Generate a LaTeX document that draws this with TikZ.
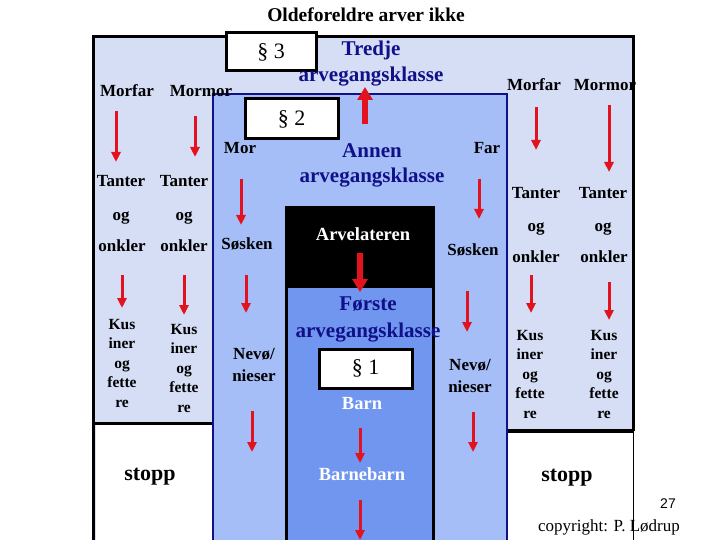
\documentclass[tikz,border=0pt]{standalone}
\usepackage{fontspec}
\setmainfont{Liberation Serif}
\newfontfamily\numfont{Liberation Sans}
\usetikzlibrary{arrows.meta}
\definecolor{outerbg}{RGB}{214,222,246}
\definecolor{midbg}{RGB}{166,190,248}
\definecolor{innerbg}{RGB}{112,150,240}
\definecolor{navyc}{RGB}{16,16,136}
\definecolor{redc}{RGB}{226,18,30}
\newcommand\redarr[4]{%
  \coordinate (#1s) at (#2,#3);
  \coordinate (#1e) at (#2,#4);
  \draw[arr] (#1s) -- (#1e);}
\tikzset{
  lbl/.style={font=\fontsize{17}{17}\selectfont\bfseries, inner sep=0pt, text height=0.68em, text depth=0pt},
  wlbl/.style={lbl, font=\fontsize{18.5}{18.5}\selectfont\bfseries, text=white},
  kus/.style={font=\fontsize{15.5}{19.5}\selectfont\bfseries, align=center, inner sep=0pt},
  nev/.style={font=\fontsize{17}{22}\selectfont\bfseries, align=center, inner sep=0pt},
  cls/.style={font=\fontsize{21}{#1}\selectfont\bfseries, text=navyc, align=center, inner sep=0pt},
  parbox/.style={draw=black, line width=3pt, fill=white, minimum width=90pt, minimum height=38pt, inner sep=0pt, font=\fontsize{22}{22}\selectfont},
  arr/.style={draw=redc, line width=3pt, -{Triangle[width=9pt,length=10pt]}},
  bigarr/.style={draw=redc, line width=6pt, -{Triangle[width=15pt,length=13pt]}},
  stp/.style={font=\fontsize{22}{22}\selectfont\bfseries, inner sep=0pt, text height=0.68em, text depth=0pt},
}
\begin{document}
\begin{tikzpicture}[x=1pt,y=-1pt]
\useasboundingbox (0,0) rectangle (720,540);
% outer class (third)
\fill[outerbg] (93,37) rectangle (633,540);
\fill[white] (96,425) rectangle (213,540);
\fill[white] (507,431) rectangle (633,540);
\draw[line width=3pt] (93,540) -- (93,37) -- (633,37) -- (633,431);
\draw[line width=1pt] (633,431) -- (633,540);
\draw[line width=3.5pt] (93,423.5) -- (213,423.5);
\draw[line width=3.5pt] (507,431) -- (633,431);
% middle class (second)
\draw[fill=midbg, draw=navyc, line width=2.5pt] (213,541) -- (213,94) -- (507,94) -- (507,541);
% arvelateren + first class
\fill[black] (285,206) rectangle (435,540);
\fill[innerbg] (288,288) rectangle (432,540);
% paragraph boxes
\node[parbox] (p3) at (271,52) {§ 3};
\node[parbox, minimum width=93pt, minimum height=40pt] (p2) at (291.5,119) {§ 2};
\node[parbox, minimum width=93pt, minimum height=39pt] (p1) at (365.5,368.5) {§ 1};
% titles
\node[lbl, font=\fontsize{19.5}{19.5}\selectfont\bfseries] (title) at (366,18) {Oldeforeldre arver ikke};
\node[cls=26] (c3) at (371,64) {Tredje\\arvegangsklasse};
\node[cls=25] (c2) at (372,165) {Annen\\arvegangsklasse};
\node[cls=27] (c1) at (368,319) {Første\\arvegangsklasse};
% left outer column
\node[lbl] (morfarL) at (127,93) {Morfar};
\node[lbl] (mormorL) at (201,93) {Mormor};
\node[lbl] (tanL1) at (121,183) {Tanter};
\node[lbl] (tanL2) at (184,183) {Tanter};
\node[lbl] (ogL1) at (121,217) {og};
\node[lbl] (ogL2) at (184,217) {og};
\node[lbl] (onkL1) at (122,248) {onkler};
\node[lbl] (onkL2) at (184,248) {onkler};
\node[kus] (kusL1) at (122,363) {Kus\\iner\\og\\fette\\re};
\node[kus] (kusL2) at (184,368) {Kus\\iner\\og\\fette\\re};
\node[stp] (stoppL) at (150,477) {stopp};
% right outer column
\node[lbl] (morfarR) at (534,87) {Morfar};
\node[lbl] (mormorR) at (605,87) {Mormor};
\node[lbl] (tanR1) at (536,195) {Tanter};
\node[lbl] (tanR2) at (603,195) {Tanter};
\node[lbl] (ogR1) at (536,228) {og};
\node[lbl] (ogR2) at (603,228) {og};
\node[lbl] (onkR1) at (536,259) {onkler};
\node[lbl] (onkR2) at (604,259) {onkler};
\node[kus] (kusR1) at (530,374) {Kus\\iner\\og\\fette\\re};
\node[kus] (kusR2) at (604,374) {Kus\\iner\\og\\fette\\re};
\node[stp] (stoppR) at (567,478) {stopp};
% middle column
\node[lbl] (mor) at (240,150) {Mor};
\node[lbl] (far) at (487,150) {Far};
\node[lbl] (sosL) at (247,246) {Søsken};
\node[lbl] (sosR) at (473,252) {Søsken};
\node[nev] (nevL) at (254,365) {Nevø/\\nieser};
\node[nev] (nevR) at (470,376) {Nevø/\\nieser};
% inner
\node[wlbl] (arv) at (363,237) {Arvelateren};
\node[wlbl] (barn) at (362,406) {Barn};
\node[wlbl] (bbarn) at (362,477) {Barnebarn};
% footer
\node[inner sep=0pt, font=\numfont\fontsize{14}{14}\selectfont] (pg) at (668,504) {27};
\node[inner sep=0pt, font=\fontsize{17}{17}\selectfont] (copy) at (609,527) {copyright: P. Lødrup};
% arrows
\redarr{aLa}{116}{111}{162}
\redarr{aLb}{195}{116}{157}
\redarr{aRa}{536}{107}{150}
\redarr{aRb}{609}{105}{172}
\redarr{aMor}{241}{179}{225}
\redarr{aFar}{479}{179}{219}
\redarr{aSL}{246}{275}{313}
\redarr{aSR}{467}{291}{332}
\redarr{aKLa}{122}{275}{308}
\redarr{aKLb}{184}{275}{315}
\redarr{aKRa}{531}{275}{313}
\redarr{aKRb}{609}{282}{320}
\redarr{aNL}{252}{411}{452}
\redarr{aNR}{473}{412}{452}
\redarr{aBa}{360}{428}{463}
\redarr{aBb}{360}{500}{540}
\coordinate (upS) at (365,124);
\coordinate (upE) at (365,87);
\draw[bigarr] (upS) -- (upE);
\coordinate (arvS) at (360,253);
\coordinate (arvE) at (360,292);
\draw[bigarr] (arvS) -- (arvE);
\end{tikzpicture}
\end{document}
